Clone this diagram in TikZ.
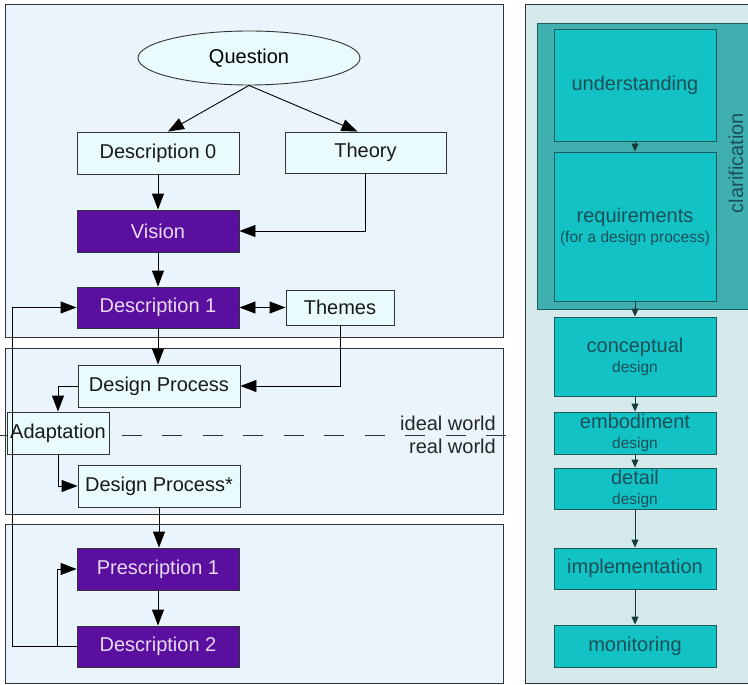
\documentclass[tikz,border=0pt]{standalone}
\usepackage{fontspec}
\setmainfont{Liberation Sans}
\usetikzlibrary{arrows.meta,shapes.geometric,calc}
\definecolor{panelL}{HTML}{EAF4FC}
\definecolor{boxL}{HTML}{EAFBFD}
\definecolor{purp}{HTML}{5A0F9E}
\definecolor{purptext}{HTML}{E8DAF7}
\definecolor{panelR}{HTML}{D5E9EA}
\definecolor{clar}{HTML}{40AFAF}
\definecolor{tealbox}{HTML}{12C2C4}
\definecolor{tealline}{HTML}{1D5C60}
\definecolor{tealarr}{HTML}{173A3D}
\definecolor{tealtext}{HTML}{1B5058}
\definecolor{edge}{HTML}{333333}
\tikzset{
  panel/.style={draw=edge, line width=0.9pt},
  lbox/.style={draw=edge, fill=boxL, line width=0.9pt, inner sep=0pt, font=\fontsize{20}{22}\selectfont, text=black!90},
  pbox/.style={draw=edge, fill=purp, line width=0.9pt, inner sep=0pt, font=\fontsize{20}{22}\selectfont, text=purptext},
  tbox/.style={draw=tealline, fill=tealbox, line width=0.9pt, inner sep=0pt, align=center, text=tealtext, minimum width=162pt, font=\fontsize{20}{20}\selectfont},
  arr/.style={line width=0.9pt, draw=black, -{Triangle[length=16pt,width=12pt]}},
  darr/.style={line width=0.9pt, draw=black, {Triangle[length=16pt,width=12pt]}-{Triangle[length=16pt,width=12pt]}},
  tarr/.style={line width=0.9pt, draw=tealarr, -{Triangle[length=8pt,width=7pt]}},
  big/.style={font=\fontsize{20}{22}\selectfont},
}
\newcommand{\smalltxt}[1]{{\fontsize{15.5}{20}\selectfont #1}}
\begin{document}
\begin{tikzpicture}[x=1pt,y=-1pt]
\useasboundingbox (0,0) rectangle (748,685);
% panels
\fill[white] (0,0) rectangle (748,685);
\draw[panel, fill=panelL] (5,4) rectangle (503,337);
\draw[panel, fill=panelL] (5,348) rectangle (503,514);
\draw[panel, fill=panelL] (5,524) rectangle (503,683);
\draw[panel, fill=panelR] (525,4) rectangle (760,683);
\draw[draw=tealline, line width=0.9pt, fill=clar] (537,23) rectangle (760,309);

% dashed world line
\draw[line width=0.9pt, draw=black!80, dash pattern=on 20pt off 20.5pt] (0,435) -- (507,435);
\node[big, anchor=east, inner sep=0pt, text=black!85] (ideal) at (496,423) {ideal world};
\node[big, anchor=east, inner sep=0pt, text=black!85] (real) at (496,446) {real world};

% left nodes
\node[draw=edge, fill=boxL, line width=0.9pt, ellipse, minimum width=222pt, minimum height=54pt, inner sep=0pt, big] (q) at (249,58) {Question};
\node[lbox, minimum width=162pt, minimum height=42pt] (d0) at (158,153) {Description 0};
\node[lbox, minimum width=161pt, minimum height=41pt] (th) at (365.5,152.5) {Theory};
\node[pbox, minimum width=162pt, minimum height=42pt] (vis) at (158,231) {Vision};
\node[pbox, minimum width=162pt, minimum height=41pt] (d1) at (158,307.5) {Description 1};
\node[lbox, minimum width=108pt, minimum height=35pt] (thm) at (340,307.5) {Themes};
\node[lbox, minimum width=162pt, minimum height=42pt] (dp) at (159,386) {Design Process};
\node[lbox, minimum width=102pt, minimum height=42pt] (ad) at (58,433) {Adaptation};
\node[lbox, minimum width=162pt, minimum height=42pt] (dps) at (159,486) {Design Process*};
\node[pbox, minimum width=162pt, minimum height=42pt] (p1) at (158,569) {Prescription 1};
\node[pbox, minimum width=162pt, minimum height=41pt] (d2) at (158,646.5) {Description 2};
\coordinate (lx) at (12,0);
\coordinate (mx) at (57,0);

% left connectors
\draw[arr] (q.south) -- ([xshift=10pt]d0.north);
\draw[arr] (q.south) -- ([xshift=-8pt]th.north);
\draw[arr] (d0.south) -- (vis.north);
\draw[arr] (th.south) |- (vis.east);
\draw[arr] (vis.south) -- (d1.north);
\draw[darr] (d1.east) -- (thm.west);
\draw[arr] (thm.south) |- (dp.east);
\draw[arr] (d1.south) -- (d1.south |- dp.north);
\draw[arr] (dp.west) -| (ad.north);
\draw[arr] (ad.south) |- (dps.west);
\draw[arr] (dps.south) -- (dps.south |- p1.north);
\draw[arr] (p1.south) -- (d2.north);
\draw[arr] (d2.west) -- (d2.west -| mx) |- (p1.west);
\draw[arr] (d2.west) -- (d2.west -| lx) |- (d1.west);

% right nodes
\node[tbox, minimum height=112pt] (und) at (635,85) {understanding};
\node[tbox, minimum height=149pt] (req) at (635,226.5) {requirements\\\smalltxt{(for a design process)}};
\node[tbox, minimum height=79pt] (con) at (635,356.5) {conceptual\\\smalltxt{design}};
\node[tbox, minimum height=42pt] (emb) at (635,433) {embodiment\\\smalltxt{design}};
\node[tbox, minimum height=41pt] (det) at (635,488.5) {detail\\\smalltxt{design}};
\node[tbox, minimum height=41pt] (imp) at (635,568.5) {implementation};
\node[tbox, minimum height=42pt] (mon) at (635,646) {monitoring};
\node[rotate=90, text=tealtext, font=\fontsize{20}{22}\selectfont, inner sep=0pt] (clarlbl) at (736,163) {clarification};

% right connectors
\draw[tarr] (und.south) -- (req.north);
\draw[tarr] (req.south) -- (con.north);
\draw[tarr] (con.south) -- (emb.north);
\draw[tarr] (emb.south) -- (det.north);
\draw[tarr] (det.south) -- (imp.north);
\draw[tarr] (imp.south) -- (mon.north);
\end{tikzpicture}
\end{document}
